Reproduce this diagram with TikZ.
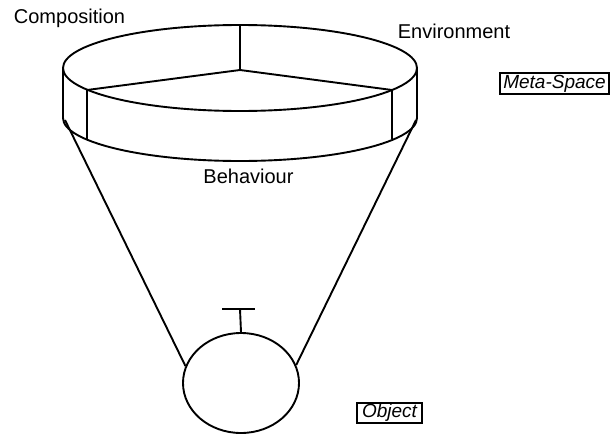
\documentclass[tikz,border=0pt]{standalone}
\usepackage{fontspec}
\setmainfont{Liberation Sans}
\usetikzlibrary{shapes.geometric}
\tikzset{
  ln/.style={line width=1.9pt, line join=round},
  lbl/.style={font=\fontsize{20}{22}\selectfont, inner sep=0pt, anchor=base},
  tagbox/.style={draw, line width=1.4pt, inner sep=0pt, font=\fontsize{19}{22}\selectfont\itshape}
}
\begin{document}
\begin{tikzpicture}[x=1pt,y=-1pt]
\useasboundingbox (0,0) rectangle (610,434);
% top ellipse
\coordinate (c) at (240,68);
\coordinate (hub) at (240,70);
\coordinate (top) at (240,25);
\coordinate (lt) at (87,90);
\coordinate (rt) at (392,90);
\coordinate (lb) at (87,139);
\coordinate (rb) at (392,139);
\coordinate (L1) at (63,68);
\coordinate (L2) at (63,118);
\coordinate (R1) at (417,68);
\coordinate (R2) at (417,118);
\draw[ln] (c) ellipse [x radius=177, y radius=43];
\draw[ln] (top) -- (hub);
\draw[ln] (lt) -- (hub) -- (rt);
\draw[ln] (lt) -- (lb);
\draw[ln] (rt) -- (rb);
\draw[ln] (L1) -- (L2);
\draw[ln] (R1) -- (R2);
\draw[ln] (R2) arc[start angle=0, end angle=180, x radius=177, y radius=43];
% object
\node[ln, draw, ellipse, minimum width=116, minimum height=100, inner sep=0pt] (obj) at (241,383) {};
\coordinate (cl) at (65,120);
\coordinate (cr) at (416,120);
\draw[ln] (cl) -- (obj.163);
\draw[ln] (cr) -- (obj.18);
\coordinate (tb) at (240,309);
\coordinate (tl) at (222,309);
\coordinate (tr) at (255,309);
\draw[ln] (obj.north) -- (tb);
\draw[ln] (tl) -- (tr);
% labels
\node[lbl] (comp) at (69.5,23) {Composition};
\node[lbl] (env) at (454,38) {Environment};
\node[lbl] (beh) at (248.5,183) {Behaviour};
\node[tagbox, minimum width=109, minimum height=21] (meta) at (554.5,83.5) {Meta-Space};
\node[tagbox, minimum width=65, minimum height=20] (objl) at (389.5,413) {Object};
\end{tikzpicture}
\end{document}
